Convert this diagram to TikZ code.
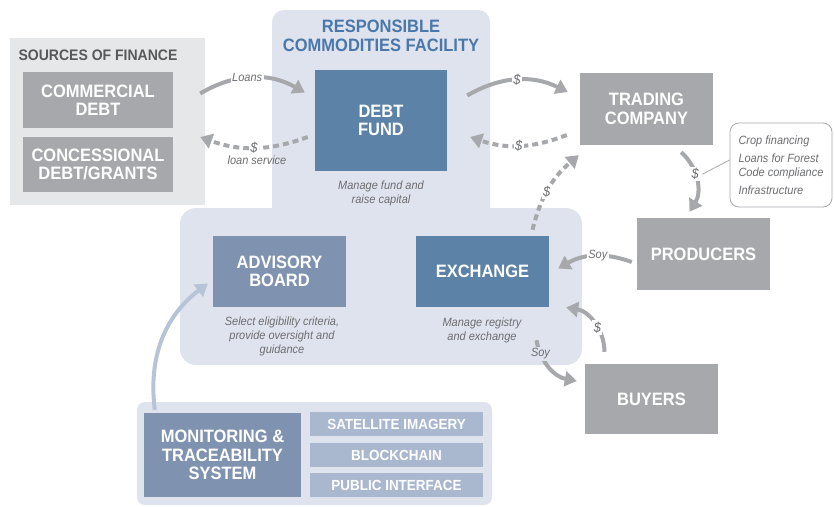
\documentclass[tikz,border=0pt]{standalone}
\usepackage{fontspec}
\setmainfont[FakeStretch=0.92]{Liberation Sans}
\usepackage{tikz}
\usetikzlibrary{arrows.meta,shapes}

\definecolor{boxgrey}{HTML}{A6A8AB}
\definecolor{srcgrey}{HTML}{E6E7E8}
\definecolor{darktext}{HTML}{58595B}
\definecolor{notetext}{HTML}{6D6E71}
\definecolor{fundblue}{HTML}{5C82A8}
\definecolor{slate}{HTML}{7F93B0}
\definecolor{paleslate}{HTML}{A9B7CF}
\definecolor{facility}{HTML}{DFE3EE}
\definecolor{titleblue}{HTML}{4A78AA}
\definecolor{linkblue}{HTML}{B7C4D8}

\tikzset{
  box/.style={inner sep=0pt,align=center,text=white,font=\fontsize{18}{18.5}\selectfont\bfseries},
  greybox/.style={box,fill=boxgrey},
  fundbox/.style={box,fill=fundblue},
  slatebox/.style={box,fill=slate},
  subbox/.style={box,fill=paleslate,minimum width=173bp,minimum height=24bp,font=\fontsize{14.7}{16}\selectfont\bfseries},
  note/.style={align=center,text=notetext,font=\fontsize{12}{14}\selectfont\itshape},
  flow/.style={line width=4bp,draw=boxgrey,-{Triangle[length=12bp,width=15bp]}},
  back/.style={flow,dash pattern=on 6bp off 4bp},
  tag/.style={text=notetext,font=\fontsize{12}{13}\selectfont\itshape,inner sep=1.5bp},
  dollar/.style={tag,fill=white,font=\fontsize{14}{14}\selectfont\itshape}
}

\begin{document}
\begin{tikzpicture}
\useasboundingbox (0bp,0bp) rectangle (834bp,-507bp);

% background panels
\node (src) at (107.5bp,-121.5bp)[fill=srcgrey,minimum width=195bp,minimum height=167bp] {};
\fill[facility,rounded corners=12bp] (272bp,-10bp) rectangle (490bp,-225bp);
\fill[facility,rounded corners=16bp] (180bp,-208bp) rectangle (582bp,-365bp);
\fill[facility,rounded corners=8bp] (137bp,-402bp) rectangle (492bp,-505bp);

% sources of finance
\node (srct) at (98bp,-55bp)[text=darktext,font=\fontsize{15.3}{16}\selectfont\bfseries] {SOURCES OF FINANCE};
\node (CD) at (98bp,-100bp)[greybox,minimum width=150bp,minimum height=56bp] {COMMERCIAL\\DEBT};
\node (CG) at (98bp,-164.5bp)[greybox,minimum width=150bp,minimum height=55bp] {CONCESSIONAL\\DEBT/GRANTS};

% facility
\node (rcf) at (381bp,-36bp)[align=center,text=titleblue,font=\fontsize{18}{18.5}\selectfont\bfseries] {RESPONSIBLE\\COMMODITIES FACILITY};
\node (DF) at (381bp,-120.5bp)[fundbox,minimum width=132bp,minimum height=101bp] {DEBT\\FUND};
\node (DFn) at (381bp,-193bp)[note] {Manage fund and\\raise capital};
\node (AB) at (279.5bp,-271.5bp)[slatebox,minimum width=133bp,minimum height=71bp] {ADVISORY\\BOARD};
\node (ABn) at (282bp,-336bp)[note] {Select eligibility criteria,\\provide oversight and\\guidance};
\node (EX) at (482.5bp,-271.5bp)[fundbox,minimum width=133bp,minimum height=71bp] {EXCHANGE};
\node (EXn) at (482bp,-330bp)[note] {Manage registry\\and exchange};

% market side
\node (TC) at (646.5bp,-109bp)[greybox,minimum width=133bp,minimum height=72bp] {TRADING\\COMPANY};
\node (PR) at (703.5bp,-254bp)[greybox,minimum width=133bp,minimum height=72bp] {PRODUCERS};
\node (BU) at (651.5bp,-399bp)[greybox,minimum width=133bp,minimum height=70bp] {BUYERS};
\node (uses) at (781bp,-165bp)[draw=boxgrey,line width=0.8bp,fill=white,rounded corners=9bp,minimum width=102bp,minimum height=84bp,align=left,text=notetext,font=\fontsize{12}{14}\selectfont\itshape,inner sep=0pt] {Crop financing\\[4bp]Loans for Forest\\Code compliance\\[4bp]Infrastructure};

% monitoring
\node (MT) at (222.5bp,-455bp)[slatebox,minimum width=157bp,minimum height=84bp] {MONITORING \&\\TRACEABILITY\\SYSTEM};
\node (SI) at (396.5bp,-424bp)[subbox] {SATELLITE IMAGERY};
\node (BC) at (396.5bp,-455bp)[subbox] {BLOCKCHAIN};
\node (PI) at (396.5bp,-485bp)[subbox] {PUBLIC INTERFACE};

% money and soy flows
\draw [flow] ([xshift=-5bp,yshift=28bp]src.east) to[bend left=30] node[tag,fill=white,pos=0.45] {Loans} ([xshift=-10bp,yshift=28bp]DF.west);
\draw [back] ([xshift=-7bp,yshift=-16.5bp]DF.west) to[bend left=20] node[dollar,pos=0.5] (ls) {\$} ([xshift=-5bp,yshift=-15.5bp]src.east);
\node (lsn) at (257bp,-160bp)[tag] {loan service};
\draw [flow] ([xshift=20bp,yshift=25bp]DF.east) to[bend left=28] node[dollar] {\$} ([xshift=-12bp,yshift=17bp]TC.west);
\draw [back] ([xshift=-13bp,yshift=-26bp]TC.west) to[bend left=20] node[dollar] {\$} ([xshift=23bp,yshift=-16.5bp]DF.east);
\draw [back] ([xshift=50bp,yshift=6bp]EX.north) to[bend left=18] node[dollar,pos=0.45] {\$} ([xshift=-1bp,yshift=-10bp]TC.south west);
\draw [flow] ([xshift=-32bp,yshift=-7bp]TC.south east) to[bend left=40] node[dollar,pos=0.4] (tp) {\$} ([xshift=-14bp,yshift=6bp]PR.north);
\draw [draw=boxgrey,line width=0.8bp] (tp.east) -- ([yshift=5bp]uses.west);
\draw [flow] ([xshift=-5bp,yshift=-8bp]PR.west) to[bend right=25] node[tag,fill=white,pos=0.45] {Soy} ([xshift=9bp,yshift=3bp]EX.east);
\draw [flow] ([xshift=-47bp,yshift=12bp]BU.north) to[bend right=40] node[dollar,pos=0.4] {\$} ([xshift=17bp,yshift=-36bp]EX.east);
\draw [flow] ([xshift=54bp,yshift=-33bp]EX.south) to[bend right=35] node[tag,fill=facility,pos=0.22] {Soy} ([xshift=-8bp,yshift=18bp]BU.west);
\draw [flow,draw=linkblue] ([xshift=11bp,yshift=3bp]MT.north west) to[bend left=30] ([xshift=-5bp,yshift=-12bp]AB.west);
\end{tikzpicture}
\end{document}
